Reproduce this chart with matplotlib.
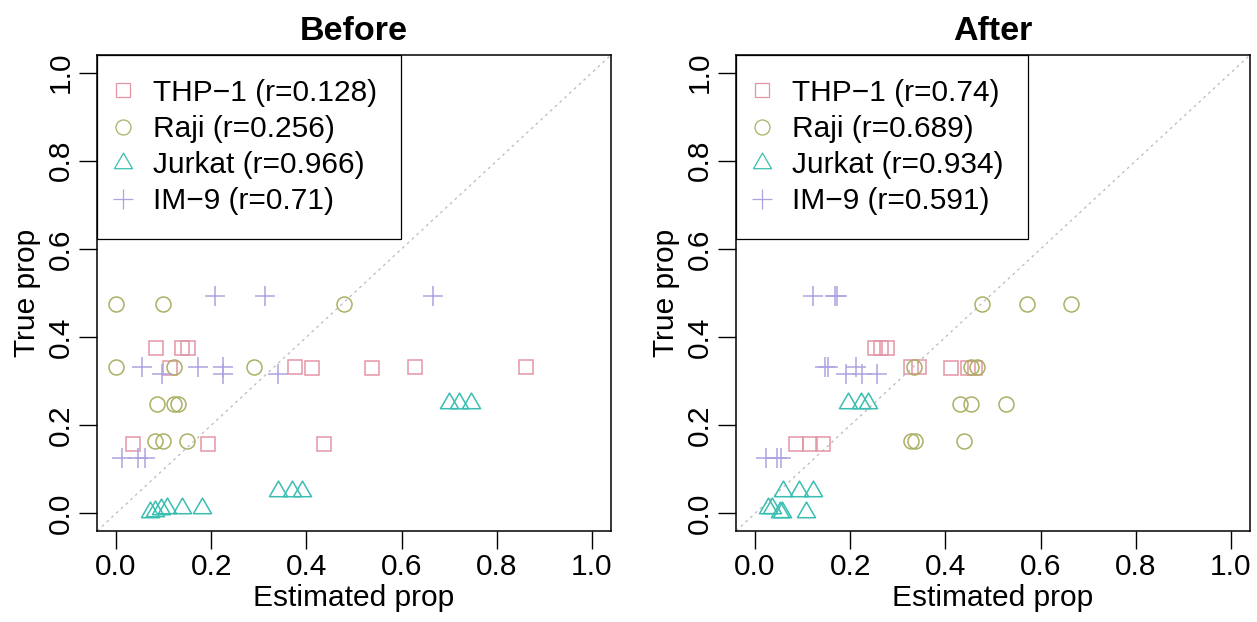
import numpy as np
import matplotlib
matplotlib.use("Agg")
import matplotlib.pyplot as plt
from matplotlib.path import Path
from matplotlib.lines import Line2D

plt.rcParams["font.family"] = ["Liberation Sans", "DejaVu Sans"]

# cell lines and correlations shown in the legends
CELL_LINES = ["THP\u22121", "Raji", "Jurkat", "IM\u22129"]
R_BEFORE = ["0.128", "0.256", "0.966", "0.71"]
R_AFTER = ["0.74", "0.689", "0.934", "0.591"]
COLORS = ["#E495A5", "#ABB065", "#39BEB1", "#ACA4E2"]

# before: estimated (x) vs true (y) proportions
thp1_before_x = [0.085, 0.138, 0.152, 0.113, 0.376, 0.411, 0.538, 0.629, 0.861, 0.036, 0.193, 0.436]
thp1_before_y = [0.375, 0.375, 0.375, 0.330, 0.333, 0.330, 0.330, 0.333, 0.333, 0.158, 0.158, 0.158]
raji_before_x = [0.000, 0.099, 0.480, 0.000, 0.122, 0.290, 0.087, 0.122, 0.130, 0.082, 0.098, 0.150]
raji_before_y = [0.474, 0.474, 0.474, 0.331, 0.331, 0.331, 0.249, 0.249, 0.249, 0.164, 0.164, 0.164]
jurkat_before_x = [0.700, 0.721, 0.745, 0.340, 0.369, 0.390, 0.072, 0.082, 0.094, 0.108, 0.138, 0.180]
jurkat_before_y = [0.250, 0.250, 0.250, 0.050, 0.050, 0.050, 0.003, 0.005, 0.010, 0.012, 0.012, 0.012]
im9_before_x = [0.208, 0.312, 0.667, 0.054, 0.173, 0.224, 0.096, 0.224, 0.340, 0.012, 0.047, 0.060]
im9_before_y = [0.494, 0.494, 0.494, 0.333, 0.333, 0.333, 0.317, 0.317, 0.317, 0.126, 0.126, 0.126]

# after
thp1_after_x = [0.253, 0.265, 0.278, 0.328, 0.345, 0.412, 0.448, 0.462, 0.087, 0.115, 0.142]
thp1_after_y = [0.375, 0.375, 0.375, 0.333, 0.333, 0.330, 0.330, 0.330, 0.158, 0.158, 0.158]
raji_after_x = [0.477, 0.572, 0.663, 0.334, 0.453, 0.467, 0.430, 0.453, 0.528, 0.327, 0.337, 0.439]
raji_after_y = [0.474, 0.474, 0.474, 0.331, 0.331, 0.331, 0.249, 0.249, 0.249, 0.164, 0.164, 0.164]
jurkat_after_x = [0.195, 0.222, 0.237, 0.059, 0.092, 0.122, 0.027, 0.036, 0.052, 0.057, 0.108]
jurkat_after_y = [0.250, 0.250, 0.250, 0.050, 0.050, 0.050, 0.012, 0.012, 0.003, 0.003, 0.003]
im9_after_x = [0.122, 0.167, 0.173, 0.148, 0.154, 0.213, 0.192, 0.225, 0.257, 0.024, 0.047, 0.054]
im9_after_y = [0.494, 0.494, 0.494, 0.333, 0.333, 0.333, 0.317, 0.317, 0.317, 0.126, 0.126, 0.126]

TICKS = [0.0, 0.2, 0.4, 0.6, 0.8, 1.0]
FS = 21.5

# R-style equilateral triangle centred on its centroid
tri = Path([(0, 1), (-0.866, -0.5), (0.866, -0.5), (0, 1)],
           [Path.MOVETO, Path.LINETO, Path.LINETO, Path.CLOSEPOLY])
MARKERS = ["s", "o", tri, "+"]
SIZES = [10.4, 10.8, 15.0, 15.0]


def panel(ax, title, series, rvals):
    ax.plot([-0.1, 1.1], [-0.1, 1.1], color="#BBBBBB", lw=0.9,
            dashes=(2.2, 3.0), zorder=1)
    for (xs, ys), m, s, c in zip(series, MARKERS, SIZES, COLORS):
        ax.plot(xs, ys, ls="none", marker=m, ms=s, mfc="none", mec=c,
                mew=1.1, zorder=2)
    ax.set_xlim(-0.04, 1.04)
    ax.set_ylim(-0.04, 1.04)
    ax.set_xticks(TICKS)
    ax.set_yticks(TICKS)
    ax.set_xticklabels([f"{t:.1f}" for t in TICKS])
    ax.set_yticklabels([f"{t:.1f}" for t in TICKS], rotation=90, va="center")
    ax.tick_params(direction="out", length=13, width=1.0, labelsize=FS, pad=3)
    for sp in ax.spines.values():
        sp.set_linewidth(1.1)
        sp.set_color("black")
    ax.set_xlabel("Estimated prop", fontsize=FS, labelpad=2)
    ax.set_ylabel("True prop", fontsize=FS, labelpad=4)
    ax.set_title(title, fontsize=24.5, fontweight="bold", pad=11)

    handles = [Line2D([], [], ls="none", marker=m, ms=s, mfc="none", mec=c, mew=0.9)
               for m, s, c in zip(MARKERS, SIZES, COLORS)]
    labels = [f"{n} (r={r})" for n, r in zip(CELL_LINES, rvals)]
    leg = ax.legend(handles, labels, loc="upper left", borderaxespad=0,
                    fontsize=FS, frameon=True, fancybox=False, framealpha=1,
                    edgecolor="black", borderpad=0.8, handlelength=0.17,
                    handletextpad=0.92, labelspacing=0.27)
    leg.get_frame().set_linewidth(0.9)


fig = plt.figure(figsize=(12.57, 6.22), dpi=100)
ax1 = fig.add_axes([97 / 1257, 91 / 622, 514 / 1257, 476 / 622])
ax2 = fig.add_axes([736 / 1257, 91 / 622, 514 / 1257, 476 / 622])

panel(ax1, "Before",
      [(thp1_before_x, thp1_before_y), (raji_before_x, raji_before_y),
       (jurkat_before_x, jurkat_before_y), (im9_before_x, im9_before_y)],
      R_BEFORE)
panel(ax2, "After",
      [(thp1_after_x, thp1_after_y), (raji_after_x, raji_after_y),
       (jurkat_after_x, jurkat_after_y), (im9_after_x, im9_after_y)],
      R_AFTER)

fig.savefig("out.png", dpi=100)
